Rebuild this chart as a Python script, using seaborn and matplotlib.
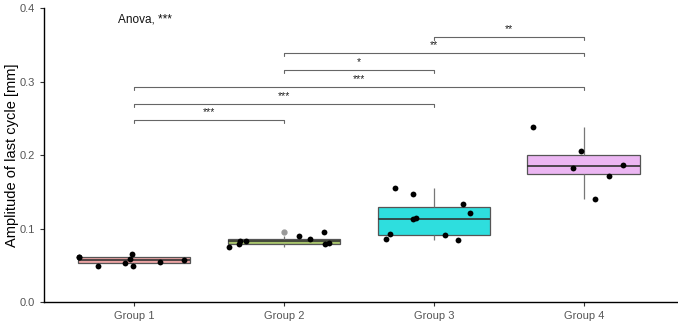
import numpy as np
import pandas as pd
import matplotlib
matplotlib.use("Agg")
import matplotlib.pyplot as plt
import seaborn as sns

# values
groups = ["Group 1", "Group 2", "Group 3", "Group 4"]
group1 = [0.0490, 0.0616, 0.0585, 0.0544, 0.0527, 0.0653, 0.0608, 0.0494, 0.0576]
group2 = [0.0952, 0.0853, 0.0785, 0.0803, 0.0789, 0.0826, 0.0894, 0.0748, 0.0830]
group3 = [0.1465, 0.1555, 0.1329, 0.1207, 0.1139, 0.1129, 0.0925, 0.0853, 0.0844, 0.0916]
group4 = [0.2377, 0.2050, 0.1827, 0.1864, 0.1718, 0.1405]
colors = ["#EBA3A3", "#A8C46C", "#2EDEDE", "#EBB6F2"]

# pairwise comparisons (from, to, label) and bracket heights
comparisons = [("Group 3", "Group 4", "**"),
               ("Group 2", "Group 4", "**"),
               ("Group 2", "Group 3", "*"),
               ("Group 1", "Group 4", "***"),
               ("Group 1", "Group 3", "***"),
               ("Group 1", "Group 2", "***")]
bracket_y = [0.361, 0.339, 0.316, 0.293, 0.270, 0.247]
anova_label = "Anova, ***"

df = pd.DataFrame({
    "group": ["Group 1"] * len(group1) + ["Group 2"] * len(group2)
             + ["Group 3"] * len(group3) + ["Group 4"] * len(group4),
    "amp": group1 + group2 + group3 + group4,
})

sns.set_style("white")
plt.rcParams["font.family"] = ["Liberation Sans", "DejaVu Sans"]

fig = plt.figure(figsize=(6.78, 3.22), dpi=100)
ax = fig.add_axes([0.065, 0.062, 0.933, 0.913])

sns.boxplot(data=df, x="group", y="amp", hue="group", order=groups,
            palette=colors, saturation=1, width=0.75, linewidth=0.9,
            legend=False, linecolor="#555555", whis=1.5,
            medianprops=dict(color="#333333", linewidth=1.2),
            whiskerprops=dict(color="#777777", linewidth=0.9),
            capprops=dict(linewidth=0),
            flierprops=dict(marker="o", markersize=3.5, markerfacecolor="#999999",
                            markeredgecolor="#999999"),
            ax=ax, zorder=2)

np.random.seed(11)
sns.stripplot(data=df, x="group", y="amp", order=groups, color="black",
              size=4.2, jitter=0.38, ax=ax, zorder=3)

# significance brackets
pos = {g: i for i, g in enumerate(groups)}
for (g1, g2, lab), yb in zip(comparisons, bracket_y):
    x1, x2 = pos[g1], pos[g2]
    ax.plot([x1, x1, x2, x2], [yb - 0.004, yb, yb, yb - 0.004],
            color="#666666", lw=0.8)
    ax.text((x1 + x2) / 2, yb + 0.004, lab, ha="center", va="bottom",
            fontsize=7.5, color="#222222")

ax.text(-0.11, 0.384, anova_label, ha="left", va="center", fontsize=8.5,
        color="#111111")

ax.set_xlim(-0.6, 3.62)
ax.set_ylim(0, 0.4)
ax.set_yticks([0.0, 0.1, 0.2, 0.3, 0.4])
ax.set_yticklabels(["0.0", "0.1", "0.2", "0.3", "0.4"])
ax.set_xlabel("")
ax.set_ylabel("Amplitude of last cycle [mm]", fontsize=10.5, color="black")
ax.yaxis.set_label_coords(-0.039, 0.5)
ax.tick_params(axis="both", labelsize=8, colors="#333333", length=3,
               width=0.8, labelcolor="#555555", left=True, bottom=True)
for s in ["top", "right"]:
    ax.spines[s].set_visible(False)
for s in ["left", "bottom"]:
    ax.spines[s].set_color("black")
    ax.spines[s].set_linewidth(1.0)

fig.savefig("out.png", dpi=100)
